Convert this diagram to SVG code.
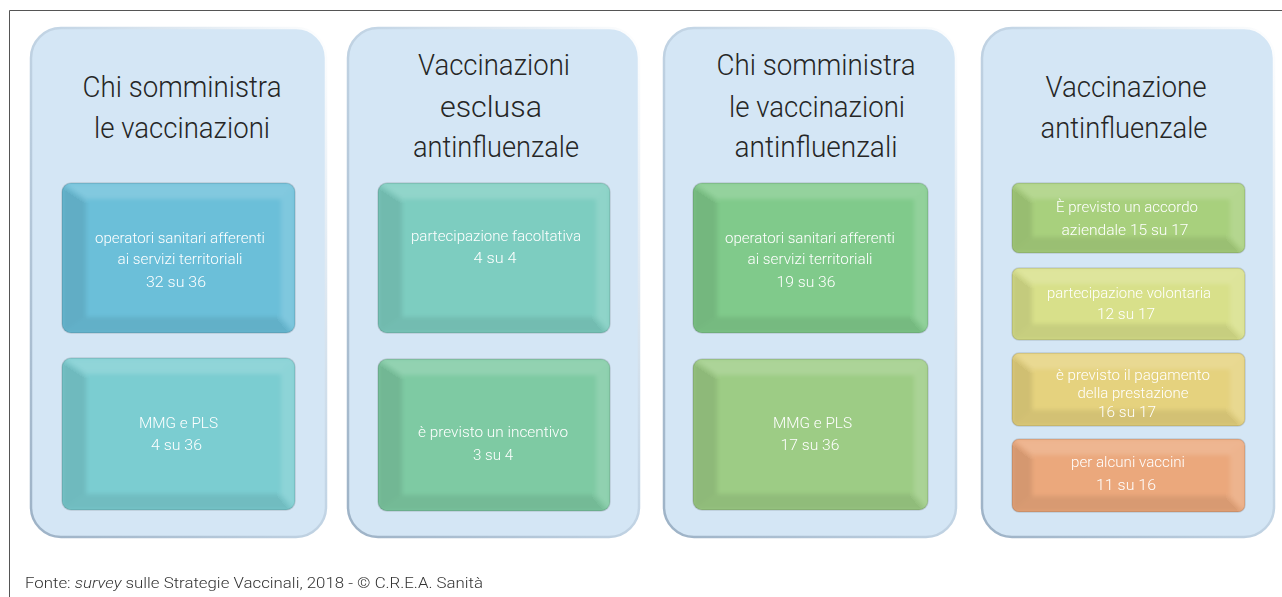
<svg xmlns="http://www.w3.org/2000/svg" width="1282" height="597" viewBox="0 0 1282 597">
<defs>
<linearGradient id="pg" x1="0" y1="1" x2="1" y2="0">
<stop offset="0" stop-color="#9db2c6"/>
<stop offset="0.55" stop-color="#c4d6e6"/>
<stop offset="1" stop-color="#ffffff"/>
</linearGradient>
<filter id="soft" x="-10%" y="-10%" width="120%" height="120%"><feGaussianBlur stdDeviation="2.2"/></filter>
<style>
.panel{fill:#d4e6f5;stroke:url(#pg);stroke-width:2.5}
.title{font-family:Roboto,"Liberation Sans",sans-serif;font-weight:300;font-size:29px;fill:#262626;text-anchor:middle}
.lbl{font-family:Roboto,"Liberation Sans",sans-serif;font-weight:300;font-size:15.5px;fill:#ffffff;text-anchor:middle}
.foot{font-family:Roboto,"Liberation Sans",sans-serif;font-weight:300;font-size:15.5px;fill:#333333}
.box{stroke:#000;stroke-opacity:0.12;stroke-width:1.5}
.bv{filter:url(#soft)}
.bt{fill:#ffffff;opacity:0.16}
.bl{fill:#000000;opacity:0.09}
.br{fill:#ffffff;opacity:0.14}
.bb{fill:#000000;opacity:0.08}
.frame{stroke:#555555;stroke-width:1;fill:none}
</style>
<clipPath id="c1"><rect x="62" y="183" width="233" height="150" rx="9"/></clipPath>
<clipPath id="c2"><rect x="62" y="358" width="233" height="152" rx="9"/></clipPath>
<clipPath id="c3"><rect x="378" y="183" width="232" height="150" rx="9"/></clipPath>
<clipPath id="c4"><rect x="378" y="359" width="232" height="152" rx="9"/></clipPath>
<clipPath id="c5"><rect x="693" y="183" width="235" height="150" rx="9"/></clipPath>
<clipPath id="c6"><rect x="693" y="359" width="235" height="151" rx="9"/></clipPath>
<clipPath id="c7"><rect x="1012" y="183" width="233" height="70" rx="7"/></clipPath>
<clipPath id="c8"><rect x="1012" y="268" width="233" height="72" rx="7"/></clipPath>
<clipPath id="c9"><rect x="1012" y="353" width="233" height="73" rx="7"/></clipPath>
<clipPath id="c10"><rect x="1012" y="439" width="233" height="73" rx="7"/></clipPath>
</defs>
<rect width="1282" height="597" fill="#ffffff"/>
<path class="frame" d="M9.5,597 V10.5 H1282"/>

<g id="panel1">
<rect class="panel" x="31" y="28" width="295" height="509" rx="30"/>
<text class="title" x="182" y="97" textLength="199" lengthAdjust="spacingAndGlyphs">Chi somministra</text>
<text class="title" x="182" y="138" textLength="176" lengthAdjust="spacingAndGlyphs">le vaccinazioni</text>
</g>
<g id="panel2">
<rect class="panel" x="348" y="28" width="291" height="509" rx="30"/>
<text class="title" x="494" y="75" textLength="152" lengthAdjust="spacingAndGlyphs">Vaccinazioni</text>
<text class="title" x="491" y="117" textLength="102" lengthAdjust="spacingAndGlyphs">esclusa</text>
<text class="title" x="496" y="157" textLength="166" lengthAdjust="spacingAndGlyphs">antinfluenzale</text>
</g>
<g id="panel3">
<rect class="panel" x="664" y="28" width="292" height="509" rx="30"/>
<text class="title" x="816" y="75" textLength="199" lengthAdjust="spacingAndGlyphs">Chi somministra</text>
<text class="title" x="817" y="117" textLength="176" lengthAdjust="spacingAndGlyphs">le vaccinazioni</text>
<text class="title" x="816" y="157" textLength="163" lengthAdjust="spacingAndGlyphs">antinfluenzali</text>
</g>
<g id="panel4">
<rect class="panel" x="982" y="28" width="292" height="509" rx="30"/>
<text class="title" x="1126" y="97" textLength="161" lengthAdjust="spacingAndGlyphs">Vaccinazione</text>
<text class="title" x="1124" y="138" textLength="167" lengthAdjust="spacingAndGlyphs">antinfluenzale</text>
</g>

<g id="p1b1">
<rect class="box" x="62" y="183" width="233" height="150" rx="9" fill="#6bbfd9"/>
<g clip-path="url(#c1)"><g class="bv">
<polygon class="bt" points="62,183 295,183 281,199 86,199"/>
<polygon class="bl" points="62,183 86,199 86,317 62,333"/>
<polygon class="br" points="295,183 295,333 281,317 281,199"/>
<polygon class="bb" points="62,333 86,317 281,317 295,333"/>
</g></g>
<text class="lbl" x="180" y="243" textLength="170" lengthAdjust="spacingAndGlyphs">operatori sanitari afferenti</text>
<text class="lbl" x="180" y="264" textLength="125" lengthAdjust="spacingAndGlyphs">ai servizi territoriali</text>
<text class="lbl" x="176" y="287" textLength="60" lengthAdjust="spacingAndGlyphs">32 su 36</text>
</g>
<g id="p1b2">
<rect class="box" x="62" y="358" width="233" height="152" rx="9" fill="#7bcdd1"/>
<g clip-path="url(#c2)"><g class="bv">
<polygon class="bt" points="62,358 295,358 281,374 86,374"/>
<polygon class="bl" points="62,358 86,374 86,494 62,510"/>
<polygon class="br" points="295,358 295,510 281,494 281,374"/>
<polygon class="bb" points="62,510 86,494 281,494 295,510"/>
</g></g>
<text class="lbl" x="178.5" y="428" textLength="79" lengthAdjust="spacingAndGlyphs">MMG e PLS</text>
<text class="lbl" x="176.5" y="450" textLength="51" lengthAdjust="spacingAndGlyphs">4 su 36</text>
</g>
<g id="p2b1">
<rect class="box" x="378" y="183" width="232" height="150" rx="9" fill="#7dcdc0"/>
<g clip-path="url(#c3)"><g class="bv">
<polygon class="bt" points="378,183 610,183 596,199 402,199"/>
<polygon class="bl" points="378,183 402,199 402,317 378,333"/>
<polygon class="br" points="610,183 610,333 596,317 596,199"/>
<polygon class="bb" points="378,333 402,317 596,317 610,333"/>
</g></g>
<text class="lbl" x="496" y="241" textLength="170" lengthAdjust="spacingAndGlyphs">partecipazione facoltativa</text>
<text class="lbl" x="495" y="263" textLength="43" lengthAdjust="spacingAndGlyphs">4 su 4</text>
</g>
<g id="p2b2">
<rect class="box" x="378" y="359" width="232" height="152" rx="9" fill="#7ecaa3"/>
<g clip-path="url(#c4)"><g class="bv">
<polygon class="bt" points="378,359 610,359 596,375 402,375"/>
<polygon class="bl" points="378,359 402,375 402,495 378,511"/>
<polygon class="br" points="610,359 610,511 596,495 596,375"/>
<polygon class="bb" points="378,511 402,495 596,495 610,511"/>
</g></g>
<text class="lbl" x="493" y="437" textLength="150" lengthAdjust="spacingAndGlyphs">è previsto un incentivo</text>
<text class="lbl" x="493" y="460" textLength="40" lengthAdjust="spacingAndGlyphs">3 su 4</text>
</g>
<g id="p3b1">
<rect class="box" x="693" y="183" width="235" height="150" rx="9" fill="#80ca8b"/>
<g clip-path="url(#c5)"><g class="bv">
<polygon class="bt" points="693,183 928,183 914,199 717,199"/>
<polygon class="bl" points="693,183 717,199 717,317 693,333"/>
<polygon class="br" points="928,183 928,333 914,317 914,199"/>
<polygon class="bb" points="693,333 717,317 914,317 928,333"/>
</g></g>
<text class="lbl" x="810" y="243" textLength="170" lengthAdjust="spacingAndGlyphs">operatori sanitari afferenti</text>
<text class="lbl" x="810" y="264" textLength="125" lengthAdjust="spacingAndGlyphs">ai servizi territoriali</text>
<text class="lbl" x="806" y="287" textLength="59" lengthAdjust="spacingAndGlyphs">19 su 36</text>
</g>
<g id="p3b2">
<rect class="box" x="693" y="359" width="235" height="151" rx="9" fill="#9dcc85"/>
<g clip-path="url(#c6)"><g class="bv">
<polygon class="bt" points="693,359 928,359 914,375 717,375"/>
<polygon class="bl" points="693,359 717,375 717,494 693,510"/>
<polygon class="br" points="928,359 928,510 914,494 914,375"/>
<polygon class="bb" points="693,510 717,494 914,494 928,510"/>
</g></g>
<text class="lbl" x="812.5" y="428" textLength="79" lengthAdjust="spacingAndGlyphs">MMG e PLS</text>
<text class="lbl" x="810" y="450" textLength="59" lengthAdjust="spacingAndGlyphs">17 su 36</text>
</g>
<g id="p4b1">
<rect class="box" x="1012" y="183" width="233" height="70" rx="7" fill="#a8d07d"/>
<g clip-path="url(#c7)"><g class="bv">
<polygon class="bt" points="1012,183 1245,183 1230,199 1032,199"/>
<polygon class="bl" points="1012,183 1032,199 1032,237 1012,253"/>
<polygon class="br" points="1245,183 1245,253 1230,237 1230,199"/>
<polygon class="bb" points="1012,253 1032,237 1230,237 1245,253"/>
</g></g>
<text class="lbl" x="1127" y="212" textLength="142" lengthAdjust="spacingAndGlyphs">È previsto un accordo</text>
<text class="lbl" x="1125" y="235" textLength="127" lengthAdjust="spacingAndGlyphs">aziendale 15 su 17</text>
</g>
<g id="p4b2">
<rect class="box" x="1012" y="268" width="233" height="72" rx="7" fill="#d8e08a"/>
<g clip-path="url(#c8)"><g class="bv">
<polygon class="bt" points="1012,268 1245,268 1230,284 1032,284"/>
<polygon class="bl" points="1012,268 1032,284 1032,324 1012,340"/>
<polygon class="br" points="1245,268 1245,340 1230,324 1230,284"/>
<polygon class="bb" points="1012,340 1032,324 1230,324 1245,340"/>
</g></g>
<text class="lbl" x="1129" y="298" textLength="164" lengthAdjust="spacingAndGlyphs">partecipazione volontaria</text>
<text class="lbl" x="1126" y="319" textLength="58" lengthAdjust="spacingAndGlyphs">12 su 17</text>
</g>
<g id="p4b3">
<rect class="box" x="1012" y="353" width="233" height="73" rx="7" fill="#e5d27e"/>
<g clip-path="url(#c9)"><g class="bv">
<polygon class="bt" points="1012,353 1245,353 1230,369 1032,369"/>
<polygon class="bl" points="1012,353 1032,369 1032,410 1012,426"/>
<polygon class="br" points="1245,353 1245,426 1230,410 1230,369"/>
<polygon class="bb" points="1012,426 1032,410 1230,410 1245,426"/>
</g></g>
<text class="lbl" x="1133" y="380" textLength="154" lengthAdjust="spacingAndGlyphs">è previsto il pagamento</text>
<text class="lbl" x="1133" y="398" textLength="111" lengthAdjust="spacingAndGlyphs">della prestazione</text>
<text class="lbl" x="1127" y="417" textLength="58" lengthAdjust="spacingAndGlyphs">16 su 17</text>
</g>
<g id="p4b4">
<rect class="box" x="1012" y="439" width="233" height="73" rx="7" fill="#eba87c"/>
<g clip-path="url(#c10)"><g class="bv">
<polygon class="bt" points="1012,439 1245,439 1230,455 1032,455"/>
<polygon class="bl" points="1012,439 1032,455 1032,496 1012,512"/>
<polygon class="br" points="1245,439 1245,512 1230,496 1230,455"/>
<polygon class="bb" points="1012,512 1032,496 1230,496 1245,512"/>
</g></g>
<text class="lbl" x="1128" y="467" textLength="114" lengthAdjust="spacingAndGlyphs">per alcuni vaccini</text>
<text class="lbl" x="1126" y="490" textLength="60" lengthAdjust="spacingAndGlyphs">11 su 16</text>
</g>
<g id="connectors"/>
<text class="foot" x="25" y="588" textLength="458" lengthAdjust="spacingAndGlyphs">Fonte: <tspan font-style="italic">survey</tspan> sulle Strategie Vaccinali, 2018 - © C.R.E.A. Sanità</text>
</svg>
